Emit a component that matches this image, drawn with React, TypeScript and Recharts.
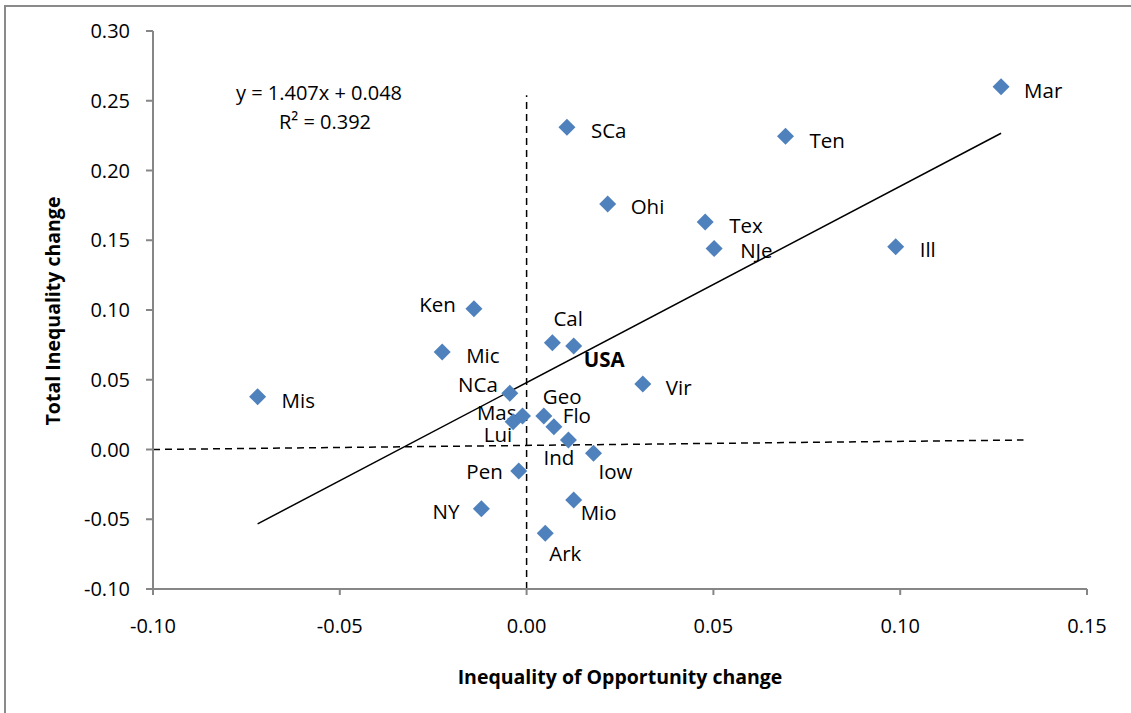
import { ScatterChart, Scatter, XAxis, YAxis, ReferenceLine } from 'recharts';

// state abbreviations and their changes
const states = ['Mar', 'Ten', 'SCa', 'Ohi', 'Tex', 'NJe', 'Ill', 'Ken', 'Cal', 'USA', 'Mic', 'Vir', 'Mis', 'NCa', 'Geo', 'Mas', 'Flo', 'Lui', 'Ind', 'Iow', 'Pen', 'NY', 'Mio', 'Ark'];
const oppChange = [0.127, 0.0693, 0.0108, 0.0217, 0.0478, 0.0502, 0.0988, -0.0141, 0.0069, 0.0126, -0.0226, 0.0311, -0.072, -0.0045, 0.0046, -0.0011, 0.0073, -0.0036, 0.0112, 0.0179, -0.0021, -0.0121, 0.0126, 0.005];
const totalChange = [0.26, 0.2245, 0.231, 0.176, 0.163, 0.144, 0.1454, 0.1009, 0.0766, 0.0742, 0.0699, 0.047, 0.0379, 0.0403, 0.024, 0.024, 0.0163, 0.0199, 0.0068, -0.0027, -0.0154, -0.0424, -0.0362, -0.0601];

const xTicks = [-0.1, -0.05, 0, 0.05, 0.1, 0.15];
const yTicks = [-0.1, -0.05, 0, 0.05, 0.1, 0.15, 0.2, 0.25, 0.3];

// linear trend from the chart
const slope = 1.407;
const intercept = 0.048;

// where each label sits relative to its marker (px)
const labelPlacement: Record<string, { dx: number; dy: number; anchor: 'start' | 'end'; bold?: boolean }> = {
  Mar: { dx: 23, dy: 3, anchor: 'start' },
  Ten: { dx: 24, dy: 4, anchor: 'start' },
  SCa: { dx: 24, dy: 3, anchor: 'start' },
  Ohi: { dx: 23, dy: 2, anchor: 'start' },
  Tex: { dx: 24, dy: 3, anchor: 'start' },
  NJe: { dx: 26, dy: 1, anchor: 'start' },
  Ill: { dx: 24, dy: 2, anchor: 'start' },
  Ken: { dx: -18, dy: -5, anchor: 'end' },
  Cal: { dx: 1, dy: -25, anchor: 'start' },
  USA: { dx: 10, dy: 13, anchor: 'start', bold: true },
  Mic: { dx: 24, dy: 3, anchor: 'start' },
  Vir: { dx: 23, dy: 3, anchor: 'start' },
  Mis: { dx: 24, dy: 3, anchor: 'start' },
  NCa: { dx: -12, dy: -9, anchor: 'end' },
  Geo: { dx: -1, dy: -20, anchor: 'start' },
  Mas: { dx: -6, dy: -4, anchor: 'end' },
  Flo: { dx: 9, dy: -12, anchor: 'start' },
  Lui: { dx: -1, dy: 12, anchor: 'end' },
  Ind: { dx: -25, dy: 17, anchor: 'start' },
  Iow: { dx: 5, dy: 18, anchor: 'start' },
  Pen: { dx: -16, dy: 0, anchor: 'end' },
  NY: { dx: -22, dy: 2, anchor: 'end' },
  Mio: { dx: 7, dy: 12, anchor: 'start' },
  Ark: { dx: 4, dy: 20, anchor: 'start' },
};

const FONT = '"Open Sans", sans-serif';
const AXIS = '#868686';

const Diamond = (props: any) => {
  const { cx, cy, payload } = props;
  const p = labelPlacement[payload.name];
  const s = 8.5;
  return (
    <g>
      <polygon points={`${cx},${cy - s} ${cx + s},${cy} ${cx},${cy + s} ${cx - s},${cy}`} fill="#4F81BD" />
      <text
        x={cx + p.dx}
        y={cy + p.dy}
        textAnchor={p.anchor}
        dominantBaseline="central"
        fontSize={20.5}
        fontFamily={FONT}
        fontWeight={p.bold ? 700 : 400}
        fill="#000"
      >
        {payload.name}
      </text>
    </g>
  );
};

export default function App() {
  const data = states.map((name, i) => ({ name, x: oppChange[i], y: totalChange[i] }));
  const minX = Math.min(...oppChange);
  const maxX = Math.max(...oppChange);
  const tick = { fill: '#000', fontSize: 20, fontFamily: FONT };

  return (
    <div style={{ position: 'absolute', left: 0, top: 0, width: 1131, height: 713, overflow: 'hidden', background: '#fff', fontFamily: FONT }}>
      {/* outer frame, only top and left edges are in view */}
      <div style={{ position: 'absolute', left: 4, top: 5, width: 1200, height: 800, borderLeft: '2px solid #8a8a8a', borderTop: '2px solid #8a8a8a' }} />

      <ScatterChart width={1131} height={713} margin={{ top: 31, right: 44, bottom: 0, left: 0 }}>
        <XAxis
          type="number"
          dataKey="x"
          domain={[-0.1, 0.15]}
          ticks={xTicks}
          tickFormatter={(v: number) => v.toFixed(2)}
          height={124}
          tickSize={6}
          tickMargin={24}
          tick={tick}
          stroke={AXIS}
          strokeWidth={2}
          allowDataOverflow
        />
        <YAxis
          type="number"
          dataKey="y"
          domain={[-0.1, 0.3]}
          ticks={yTicks}
          tickFormatter={(v: number) => v.toFixed(2)}
          width={153}
          tickSize={7}
          tickMargin={16}
          tick={tick}
          stroke={AXIS}
          strokeWidth={2}
          allowDataOverflow
        />
        <ReferenceLine segment={[{ x: 0, y: -0.1 }, { x: 0, y: 0.254 }]} stroke="#000" strokeWidth={1.5} strokeDasharray="7 5" ifOverflow="visible" />
        <ReferenceLine segment={[{ x: -0.1, y: 0 }, { x: 0.133, y: 0.0068 }]} stroke="#000" strokeWidth={1.5} strokeDasharray="7 5" ifOverflow="visible" />
        <ReferenceLine
          segment={[{ x: minX, y: slope * minX + intercept }, { x: maxX, y: slope * maxX + intercept }]}
          stroke="#000"
          strokeWidth={1.5}
          ifOverflow="visible"
        />
        <Scatter data={data} shape={Diamond} isAnimationActive={false} />
      </ScatterChart>

      <div style={{ position: 'absolute', left: 319 - 150, top: 93 - 14, width: 300, height: 28, lineHeight: '28px', textAlign: 'center', fontSize: 20 }}>
        y = 1.407x + 0.048
      </div>
      <div style={{ position: 'absolute', left: 325 - 150, top: 122 - 14, width: 300, height: 28, lineHeight: '28px', textAlign: 'center', fontSize: 20 }}>
        R² = 0.392
      </div>
      <div style={{ position: 'absolute', left: 620 - 250, top: 677 - 14, width: 500, height: 28, lineHeight: '28px', textAlign: 'center', fontSize: 19.5, fontWeight: 700 }}>
        Inequality of Opportunity change
      </div>
      <div style={{ position: 'absolute', left: 53 - 150, top: 311 - 14, width: 300, height: 28, lineHeight: '28px', textAlign: 'center', fontSize: 19.5, fontWeight: 700, transform: 'rotate(-90deg)' }}>
        Total Inequality change
      </div>
    </div>
  );
}
